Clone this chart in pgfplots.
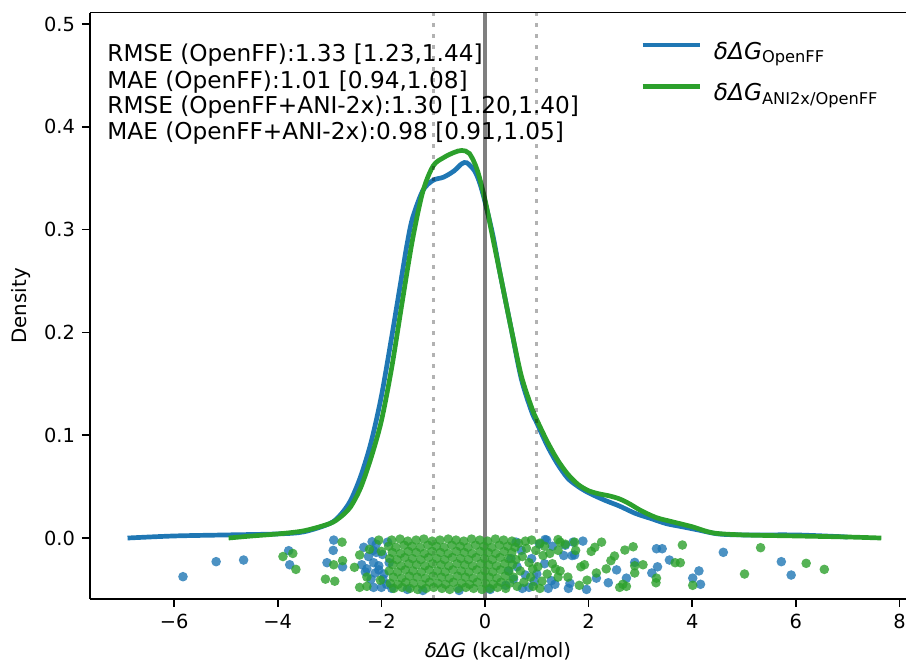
\documentclass[border=0pt]{standalone}
\usepackage{fontspec}
\setmainfont{DejaVu Sans}
\usepackage{pgfplots}
\pgfplotsset{compat=1.18}
\definecolor{C0}{HTML}{1F77B4}
\definecolor{C2}{HTML}{2CA02C}
\newcommand\annfont{\fontsize{11.6}{13}\selectfont}
\pgfplotsset{pts/.style={only marks, mark=*, mark size=2.4pt, forget plot,
  mark options={line width=0pt, fill opacity=0.8, draw opacity=0}}}

\begin{document}
\begin{tikzpicture}
\begin{axis}[
  at={(0,0)}, anchor=south west,
  scale only axis, width=408pt, height=293.15pt,
  xmin=-7.625, xmax=8.127, ymin=-0.0593, ymax=0.511,
  axis x line=box, axis y line=left,
  axis line style={-, line width=0.8pt},
  tick pos=left, tick align=outside, major tick length=4pt,
  every tick/.style={black, line width=0.8pt},
  xtick={-6,-4,-2,0,2,4,6,8}, xticklabels={−6,−4,−2,0,2,4,6,8},
  ytick={0,0.1,0.2,0.3,0.4,0.5}, yticklabels={0.0,0.1,0.2,0.3,0.4,0.5},
  tick label style={font=\fontsize{9.7}{11}\selectfont},
  label style={font=\fontsize{9.9}{12}\selectfont},
  xlabel={\textit{δΔG} (kcal/mol)},
  ylabel={Density},
  legend style={at={(axis cs:2.99,0.4895)}, anchor=north west, draw=none, fill=none,
    inner sep=0pt, row sep=0pt, column sep=6pt, font=\annfont,
    nodes={inner sep=0pt, text height=12pt, text depth=8.7pt}},
  legend cell align=left,
  legend image code/.code={\draw[#1, line width=2.35pt] (0pt,5.5pt) -- (28.5pt,5.5pt);},
]
% KDE curves
\addplot[C0, line width=2.35pt, smooth] coordinates {
(-6.9,0.000) (-6.0,0.002) (-5.0,0.003) (-4.0,0.004) (-3.5,0.006) (-3.0,0.014)
(-2.8,0.022) (-2.6,0.036) (-2.4,0.060) (-2.2,0.093) (-2.0,0.138) (-1.8,0.196)
(-1.6,0.257) (-1.5,0.287) (-1.4,0.311) (-1.2,0.338) (-1.0,0.348) (-0.8,0.351)
(-0.6,0.357) (-0.45,0.364) (-0.35,0.365) (-0.2,0.357) (-0.1,0.345) (0.0,0.327)
(0.15,0.295) (0.3,0.255) (0.5,0.205) (0.7,0.155) (0.9,0.123) (1.0,0.112)
(1.2,0.090) (1.4,0.072) (1.6,0.058) (1.8,0.050) (2.0,0.044) (2.3,0.037)
(2.6,0.031) (2.9,0.024) (3.2,0.019) (3.5,0.014) (3.8,0.011) (4.1,0.008)
(4.5,0.004) (5.0,0.003) (6.0,0.003) (7.0,0.001)
};
\addlegendentry{\textit{δΔG}\textsubscript{OpenFF}}
\addplot[C2, line width=2.35pt, smooth] coordinates {
(-4.95,0.000) (-4.5,0.002) (-4.0,0.004) (-3.5,0.007) (-3.0,0.014) (-2.8,0.020)
(-2.6,0.030) (-2.4,0.049) (-2.2,0.078) (-2.0,0.114) (-1.8,0.166) (-1.6,0.229)
(-1.4,0.290) (-1.2,0.337) (-1.0,0.362) (-0.8,0.370) (-0.6,0.375) (-0.45,0.377)
(-0.3,0.374) (-0.15,0.358) (0.0,0.329) (0.15,0.292) (0.3,0.255) (0.5,0.205)
(0.7,0.158) (0.9,0.127) (1.0,0.115) (1.2,0.094) (1.4,0.076) (1.6,0.062)
(1.8,0.052) (2.0,0.046) (2.2,0.043) (2.4,0.041) (2.6,0.038) (2.8,0.033)
(3.0,0.027) (3.3,0.020) (3.6,0.016) (4.0,0.011) (4.4,0.005) (5.0,0.003)
(6.0,0.002) (7.0,0.001) (7.65,0.000)
};
\addlegendentry{\textit{δΔG}\textsubscript{ANI2x/OpenFF}}
% strip points, OpenFF
\addplot[pts, C0] coordinates {
(-5.83,-0.0376) (-5.19,-0.023) (-4.66,-0.0214) (-3.79,-0.0123) (-3.77,-0.026)
(-2.92,-0.002) (-2.93,-0.012) (-3.05,-0.024) (-2.75,-0.028) (-2.38,-0.026)
(-2.34,-0.009) (-2.18,-0.0036) (-2.31,-0.033) (-2.16,-0.012) (-2.10,-0.014)
(-2.15,-0.024) (-2.05,-0.031) (-2.12,-0.034) (-2.00,-0.048) (-1.97,-0.040)
(-2.25,-0.018) (-2.20,-0.040) (-2.10,-0.006) (-2.05,-0.027) (-1.98,-0.016)
(-1.95,-0.035) (-1.90,-0.045) (-1.88,-0.004) (-1.85,-0.024) (-1.80,-0.049)
(-2.15,-0.048) (-2.28,-0.030)
(-1.5,-0.050) (-0.5,-0.051) (0.1,-0.050) (-1.2,-0.051)
(0.40,-0.046) (0.55,-0.040) (0.62,-0.028) (0.70,-0.012) (0.78,-0.036) (0.85,-0.048)
(0.50,-0.020) (0.90,-0.020) (0.95,-0.042) (0.45,-0.032) (0.60,-0.004) (0.72,-0.049)
(1.00,-0.035) (1.05,-0.006) (1.15,-0.025) (1.35,-0.045) (1.30,-0.008)
(1.16,-0.0015) (1.19,-0.002) (1.22,-0.049) (1.28,-0.0415) (1.55,-0.007) (1.52,-0.017)
(1.68,-0.017) (1.73,-0.0165) (1.70,-0.004) (1.89,-0.003) (1.61,-0.049) (1.64,-0.044)
(1.96,-0.050) (2.15,-0.039) (2.38,-0.0435) (2.54,-0.031) (2.73,-0.039) (2.89,-0.0237)
(3.31,-0.0104) (3.42,-0.0104) (3.56,-0.0214) (3.33,-0.028) (3.22,-0.034) (4.01,-0.039)
(4.13,-0.032) (4.16,-0.045) (4.60,-0.0139) (5.72,-0.023) (5.91,-0.036)
};
% strip points, ANI2x/OpenFF
\addplot[pts, C2] coordinates {
(-3.90,-0.018) (-3.71,-0.015) (-3.65,-0.0305) (-2.76,-0.004) (-2.75,-0.022)
(-2.92,-0.026) (-3.08,-0.040) (-2.90,-0.042) (-2.52,-0.0285) (-2.42,-0.0165)
(-2.23,-0.011) (-2.42,-0.048) (-2.28,-0.038) (-2.28,-0.047) (-2.02,-0.041)
(-2.05,-0.002) (-2.00,-0.013)
(3.81,-0.0068) (3.67,-0.024) (3.77,-0.024) (4.01,-0.046) (5.32,-0.0094) (5.01,-0.035)
(6.20,-0.0246) (6.55,-0.0305) (3.31,-0.039) (3.30,-0.0435) (3.05,-0.026) (2.86,-0.0085)
(2.70,-0.0117) (2.89,-0.027) (2.89,-0.034) (2.73,-0.047) (2.60,-0.048) (2.66,-0.045)
(2.50,-0.0175) (2.43,-0.022) (2.34,-0.030) (2.15,-0.034) (2.12,-0.009) (2.25,-0.004)
(2.05,-0.013) (1.97,-0.041) (1.82,-0.046) (1.92,-0.026) (1.85,-0.028) (1.73,-0.004)
(1.75,-0.012) (1.41,-0.012) (1.45,-0.004) (1.55,-0.006) (1.30,-0.025) (1.36,-0.030)
(1.45,-0.032) (1.41,-0.038) (1.60,-0.038) (0.90,-0.002) (1.06,-0.005) (1.12,-0.017)
(0.93,-0.047) (1.06,-0.049) (0.92,-0.030) (0.88,-0.038) (1.41,-0.0015)
(0.65,-0.005) (0.72,-0.018) (0.68,-0.032) (0.75,-0.043) (0.80,-0.010) (0.85,-0.024)
(0.62,-0.047) (0.98,-0.012) (1.02,-0.028) (1.15,-0.008) (1.20,-0.035) (1.25,-0.015)
(0.78,-0.003) (1.10,-0.042)
(-1.80,-0.002) (-1.64,-0.001) (-1.49,-0.003) (-1.33,-0.002) (-1.18,-0.001) (-1.02,-0.003)
(-0.87,-0.002) (-0.71,-0.001) (-0.56,-0.002) (-0.41,-0.003) (-0.26,-0.001) (-0.10,-0.002)
(0.05,-0.003) (0.20,-0.001) (0.36,-0.002) (0.52,-0.003)
(-1.86,-0.008) (-1.72,-0.009) (-1.56,-0.007) (-1.41,-0.008) (-1.25,-0.009) (-1.10,-0.007)
(-0.94,-0.008) (-0.79,-0.009) (-0.64,-0.007) (-0.48,-0.008) (-0.33,-0.009) (-0.18,-0.007)
(-0.02,-0.008) (0.13,-0.009) (0.28,-0.007) (0.44,-0.008) (0.58,-0.009)
(-1.79,-0.014) (-1.63,-0.015) (-1.48,-0.013) (-1.33,-0.014) (-1.17,-0.015) (-1.02,-0.013)
(-0.86,-0.014) (-0.71,-0.015) (-0.55,-0.013) (-0.40,-0.014) (-0.25,-0.015) (-0.09,-0.013)
(0.06,-0.014) (0.21,-0.015) (0.37,-0.013) (0.52,-0.014)
(-1.84,-0.020) (-1.70,-0.021) (-1.55,-0.019) (-1.40,-0.020) (-1.24,-0.021) (-1.09,-0.019)
(-0.93,-0.020) (-0.78,-0.021) (-0.63,-0.019) (-0.47,-0.020) (-0.32,-0.021) (-0.17,-0.019)
(-0.01,-0.020) (0.14,-0.021) (0.29,-0.019) (0.45,-0.020) (0.60,-0.021)
(-1.78,-0.026) (-1.62,-0.027) (-1.47,-0.025) (-1.32,-0.026) (-1.16,-0.027) (-1.01,-0.025)
(-0.85,-0.026) (-0.70,-0.027) (-0.54,-0.025) (-0.39,-0.026) (-0.24,-0.027) (-0.08,-0.025)
(0.07,-0.026) (0.22,-0.027) (0.38,-0.025) (0.53,-0.026)
(-1.85,-0.032) (-1.69,-0.033) (-1.54,-0.031) (-1.39,-0.032) (-1.23,-0.033) (-1.08,-0.031)
(-0.92,-0.032) (-0.77,-0.033) (-0.62,-0.031) (-0.46,-0.032) (-0.31,-0.033) (-0.16,-0.031)
(0.00,-0.032) (0.15,-0.033) (0.30,-0.031) (0.46,-0.032)
(-1.77,-0.038) (-1.61,-0.039) (-1.46,-0.037) (-1.31,-0.038) (-1.15,-0.039) (-1.00,-0.037)
(-0.84,-0.038) (-0.69,-0.039) (-0.53,-0.037) (-0.38,-0.038) (-0.23,-0.039) (-0.07,-0.037)
(0.08,-0.038) (0.23,-0.039) (0.39,-0.037) (0.55,-0.038)
(-1.83,-0.044) (-1.68,-0.045) (-1.53,-0.043) (-1.38,-0.044) (-1.22,-0.045) (-1.07,-0.043)
(-0.91,-0.044) (-0.76,-0.045) (-0.61,-0.043) (-0.45,-0.044) (-0.30,-0.045) (-0.15,-0.043)
(0.01,-0.044) (0.16,-0.045) (0.31,-0.043) (0.47,-0.044)
(-1.76,-0.049) (-1.60,-0.048) (-1.45,-0.049) (-1.30,-0.050) (-1.14,-0.049) (-0.99,-0.048)
(-0.83,-0.049) (-0.68,-0.050) (-0.52,-0.049) (-0.37,-0.048) (-0.22,-0.049) (-0.06,-0.050)
(0.09,-0.049) (0.24,-0.048) (0.40,-0.049)
};
% reference lines
\addplot[black, opacity=0.5, line width=2pt, forget plot] coordinates {(0,-0.0593) (0,0.511)};
\addplot[black, opacity=0.3, line width=1.6pt, dash pattern=on 2pt off 3.5pt, forget plot] coordinates {(-1,-0.0593) (-1,0.511)};
\addplot[black, opacity=0.3, line width=1.6pt, dash pattern=on 2pt off 3.5pt, forget plot] coordinates {(1,-0.0593) (1,0.511)};
% metrics
\node[anchor=base west, inner sep=0pt, font=\annfont] at (axis cs:-7.297,0.4633) {RMSE (OpenFF):1.33 [1.23,1.44]};
\node[anchor=base west, inner sep=0pt, font=\annfont] at (axis cs:-7.297,0.4375) {MAE (OpenFF):1.01 [0.94,1.08]};
\node[anchor=base west, inner sep=0pt, font=\annfont] at (axis cs:-7.297,0.4125) {RMSE (OpenFF+ANI-2x):1.30 [1.20,1.40]};
\node[anchor=base west, inner sep=0pt, font=\annfont] at (axis cs:-7.297,0.3872) {MAE (OpenFF+ANI-2x):0.98 [0.91,1.05]};
\end{axis}
\pgfresetboundingbox
\useasboundingbox (-45pt,-31.5pt) rectangle (408pt,299.5pt);
\end{tikzpicture}
\end{document}
